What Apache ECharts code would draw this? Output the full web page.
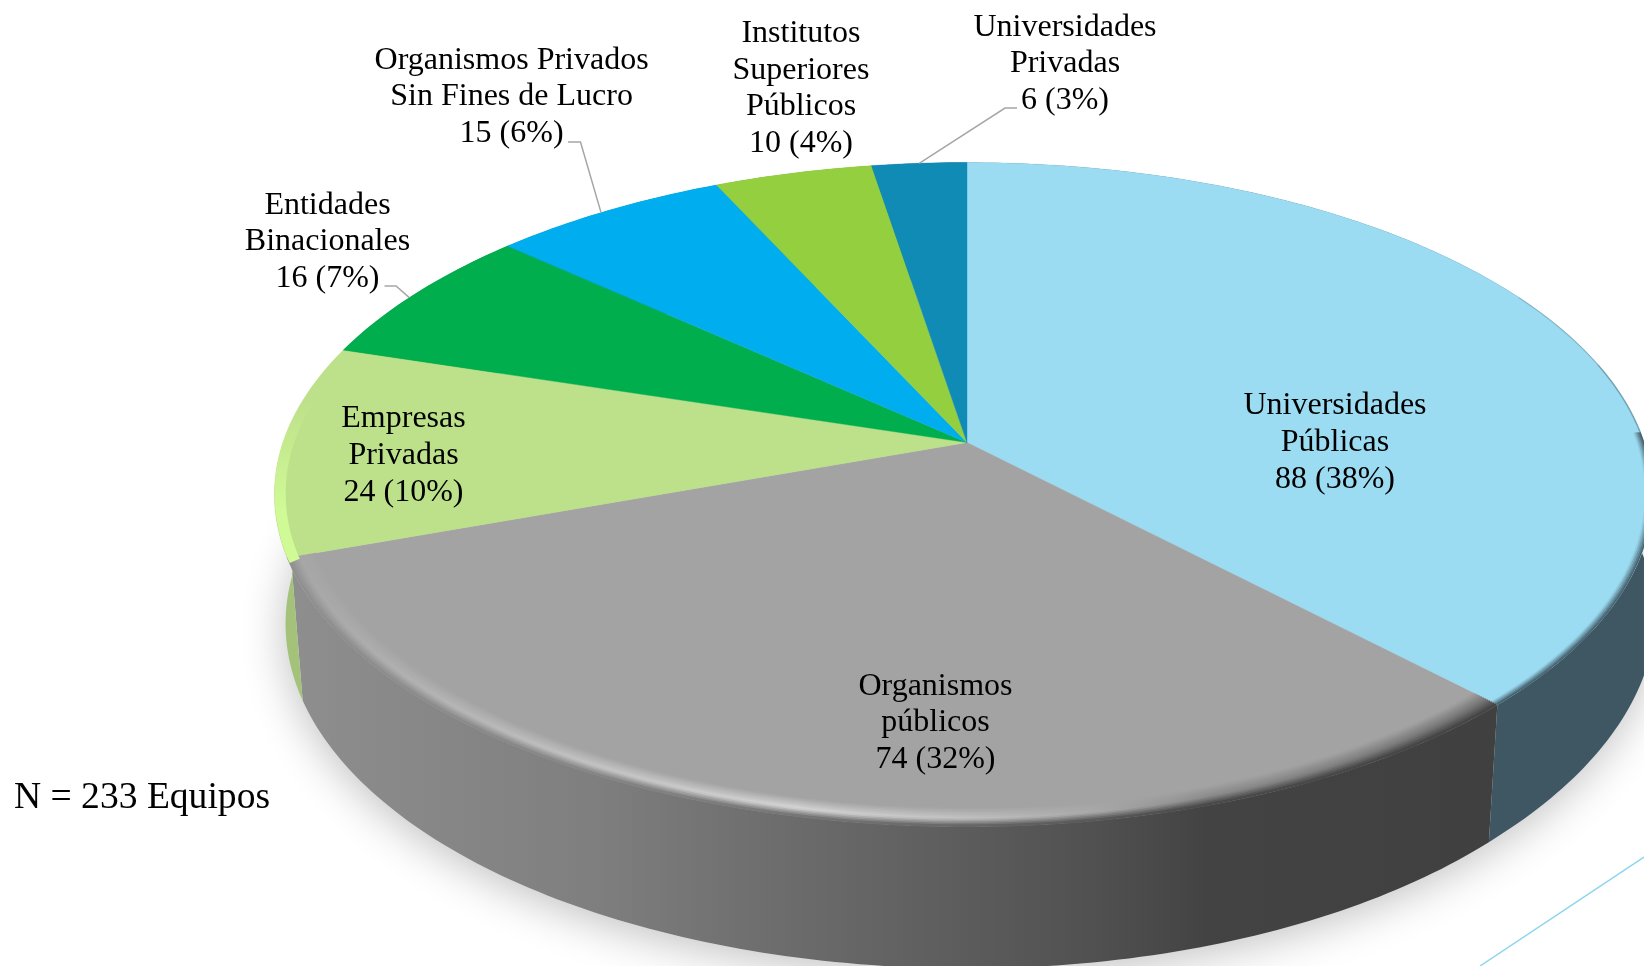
<!DOCTYPE html>
<html>
<head>
<meta charset="utf-8">
<style>html,body{margin:0;padding:0;background:#fff}#c{width:1644px;height:966px}</style>
<script src="https://cdn.jsdelivr.net/npm/echarts@6/dist/echarts.min.js"></script>
</head>
<body>
<div id="c"></div>
<script>
// ---- data ----
const categories = ['Universidades\nPúblicas','Organismos\npúblicos','Empresas\nPrivadas','Entidades\nBinacionales','Organismos Privados\nSin Fines de Lucro','Institutos\nSuperiores\nPúblicos','Universidades\nPrivadas'];
const values = [88, 74, 24, 16, 15, 10, 6];
const footnote = 'N = 233 Equipos';

// ---- styling / layout, separate from the data ----
const topColors = ['#9cdcf2','#a3a3a3','#bde08a','#00ae4e','#00adee','#94cf40','#108bb6'];
const grayOffsets = [0,.25,.42,.56,.67,.76,1];
const grayWallStops = ['#8e8e8e','#7f7f7f','#6b6b6b','#5c5c5c','#505050','#434343','#404040'];
const grayHighlight = ['#a6a6a6','#c4c4c4','#d5d5d5','#c2c2c2','#a8a8a8','#8a8a8a','#707070'];
const globalX = (stops)=>({type:'linear',x:289,y:0,x2:1497,y2:0,global:true,
  colorStops:stops.map((c,k)=>({offset:grayOffsets[k],color:c}))});
const greenWall = {type:'linear',x:0,y:515,x2:0,y2:580,global:true,colorStops:[
  {offset:0,color:'#bde08a'},{offset:1,color:'#a4c27a'}]};
const wallColors = ['#3f5763',globalX(grayWallStops),greenWall,'#00803a','#0080b0','#6f9a30','#0c6786'];
const labelAnchors = [[1335,442.5],[935.5,723],[403.5,455.5],[327.5,242],[511.6,97],[801,88.5],[1065,64]];
const leaderKnees = [null,null,null,[[384.5,286],[396,286]],[[568,142],[580.5,142]],null,[[1017,108],[1005,108]]];
const leaderFractions = [0,0,0,0.46,0.47,0,0.5];
const view = {cx:967, cy:442.5, R:684, S:323.8, p:0.1565, bx:0.984, rightSquash:0.99};
const cornerShift = 0.005;

const total = values.reduce((a,b)=>a+b,0);
let run = 0;
const rows = values.map(v=>{const r=[v,run]; run+=v; return r;});

function topPt(f,r){
  const t=2*Math.PI*f, u=r*Math.sin(t), v=-r*Math.cos(t), w=1-view.p*v;
  const k=u>0?view.rightSquash:1;
  return [view.cx+k*view.R*u/w, view.cy+view.S*v/w];
}
function basePt(f){
  const q=topPt(f,1);
  const t=2*Math.PI*f, v=-Math.cos(t);
  const near=Math.min(1,Math.max(0,(0.7-v)/0.6));
  const bx=Math.sin(t)>0?view.bx+(1.006-view.bx)*near:view.bx;
  return [view.cx+(q[0]-view.cx)*bx, q[1]+110.3+0.0385*q[1]];
}
function arc(a,b,fn){
  const n=Math.max(4,Math.ceil((b-a)*400)), out=[];
  for(let i=0;i<=n;i++) out.push(fn(a+(b-a)*i/n));
  return out;
}
const rim=(r)=>(f)=>topPt(f,r);
function toHexMix(c1,c2,t){
  const p=(c)=>[1,3,5].map(k=>parseInt(c.substr(k,2),16));
  const a=p(c1),b=p(c2);
  return '#'+a.map((x,k)=>Math.round(x+(b[k]-x)*t).toString(16).padStart(2,'0')).join('');
}

const option = {
  animation:false,
  backgroundColor:'#fff',
  graphic:[
    {type:'line',silent:true,z:1,shape:{x1:1480,y1:966,x2:1644,y2:857},style:{stroke:'#8bd5ef',lineWidth:1.5}},
    {type:'text',silent:true,z:20,x:14,y:798,style:{text:footnote,font:'37.6px "Liberation Serif"',fill:'#000',verticalAlign:'middle',align:'left'}}
  ],
  series:[
    { // ground shadow
      type:'custom',coordinateSystem:'none',z:2,silent:true,data:[[total]],
      renderItem(params,api){
        const pts=arc(0,1,basePt);
        return {type:'polygon',shape:{points:pts},style:{fill:'#e4e4e4',shadowBlur:44,shadowColor:'rgba(0,0,0,0.24)',shadowOffsetX:-1,shadowOffsetY:8}};
      }
    },
    { // side walls
      type:'custom',coordinateSystem:'none',z:3,silent:true,data:rows,
      renderItem(params,api){
        const i=params.dataIndex;
        let a=api.value(1)/total,b=(api.value(1)+api.value(0))/total;
        if(i===1) b-=cornerShift;
        if(i===2) a-=cornerShift;
        const pts=arc(a,b,rim(1)).concat(arc(a,b,basePt).reverse());
        return {type:'polygon',shape:{points:pts},style:{fill:wallColors[i]}};
      }
    },
    { // top faces
      type:'custom',coordinateSystem:'none',z:4,silent:true,data:rows,
      renderItem(params,api){
        const a=api.value(1)/total,b=(api.value(1)+api.value(0))/total;
        const pts=[[view.cx,view.cy]].concat(arc(a,b,rim(1)));
        return {type:'polygon',shape:{points:pts},style:{fill:topColors[params.dataIndex],stroke:topColors[params.dataIndex],lineWidth:0.4}};
      }
    },
    { // bevel on the front rim
      type:'custom',coordinateSystem:'none',z:5,silent:true,data:rows,
      renderItem(params,api){
        const i=params.dataIndex;
        const a=api.value(1)/total,b=(api.value(1)+api.value(0))/total;
        const line=(r,c,w,from,to,o)=>({type:'polyline',shape:{points:arc(from,to,rim(r))},style:{fill:'none',stroke:c,lineWidth:w,opacity:o===undefined?1:o,lineCap:'butt'}});
        if(i===1){
          const kids=[], steps=12, depth=0.04, peak=0.42;
          for(let s=steps-1;s>=0;s--){
            const t=(s+0.5)/steps;
            const cols=grayOffsets.map((_,k)=> t<peak
              ? toHexMix(grayWallStops[k],grayHighlight[k],t/peak)
              : toHexMix(grayHighlight[k],topColors[1],(t-peak)/(1-peak)));
            kids.push(line(1-t*depth,globalX(cols),2.6,a,b));
          }
          return {type:'group',children:kids};
        }
        if(i===0){
          const kids=[line(0.9995,'#5f8796',1.4,0.17,0.21,0.3),line(0.9995,'#5f8796',1.6,0.21,0.245,0.6)], steps=5;
          for(let s=steps-1;s>=0;s--){
            const t=(s+0.5)/steps;
            kids.push(line(1-t*0.011,toHexMix(wallColors[0],topColors[0],t),1.8,0.245,b));
          }
          return {type:'group',children:kids};
        }
        if(i===2){
          const hi={type:'linear',x:0,y:400,x2:0,y2:510,global:true,colorStops:[
            {offset:0,color:'rgba(208,250,150,0)'},{offset:1,color:'#d0fa96'}]};
          return {type:'polyline',shape:{points:arc(a-0.002,b,rim(0.992))},style:{fill:'none',stroke:hi,lineWidth:11}};
        }
        return {type:'group',children:[]};
      }
    },
    { // labels and leaders
      type:'custom',coordinateSystem:'none',z:6,silent:true,data:rows,
      renderItem(params,api){
        const i=params.dataIndex,val=api.value(0);
        const kids=[];
        const knee=leaderKnees[i];
        if(knee){
          const end=topPt((api.value(1)+val*leaderFractions[i])/total,1);
          kids.push({type:'polyline',shape:{points:[knee[0],knee[1],end]},style:{fill:'none',stroke:'#a6a6a6',lineWidth:1.5}});
        }
        kids.push({type:'text',x:labelAnchors[i][0],y:labelAnchors[i][1],style:{
          text:categories[i]+'\n'+val+' ('+Math.round(val/total*100)+'%)',
          font:'32px "Liberation Serif"',lineHeight:36.8,fill:'#000',align:'center',verticalAlign:'middle'}});
        return {type:'group',children:kids};
      }
    }
  ]
};
echarts.init(document.getElementById('c')).setOption(option);
</script>
</body>
</html>
